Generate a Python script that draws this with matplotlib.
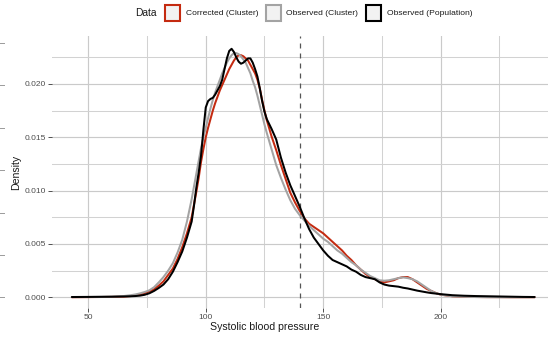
import matplotlib
matplotlib.use("Agg")
import matplotlib.pyplot as plt
from matplotlib.patches import Rectangle
from matplotlib.lines import Line2D

plt.rcParams['font.family'] = ['Liberation Sans', 'DejaVu Sans']

# Systolic blood pressure grid (mmHg)
sbp = [43, 50, 55, 60, 65, 68, 70, 72, 74, 76, 78, 80, 82, 84, 86, 88, 90, 92, 94,
       95, 96, 97, 98, 99, 100, 101, 102, 103, 104, 105, 106, 107, 108, 109, 110,
       111, 112, 113, 114, 115, 116, 117, 118, 119, 120, 121, 122, 123, 124, 125, 126,
       128, 130, 132, 134, 136, 138, 140, 142, 144, 146, 148, 150, 152, 154, 156, 158,
       160, 162, 164, 166, 168, 170, 172, 174, 176, 178, 180, 182, 184, 186, 188, 190,
       192, 194, 196, 198, 200,
       205, 210, 215, 220, 225, 230, 235, 240]

corrected_cluster = [
    0.00001, 0.00002, 0.00003, 0.00004, 0.00007, 0.00012, 0.00018, 0.00027, 0.0004, 0.00055,
    0.00075, 0.0011, 0.0015, 0.0021, 0.0027, 0.0036, 0.0047, 0.0060, 0.0075,
    0.0087, 0.0099, 0.0112, 0.0127, 0.0139, 0.0150, 0.0159, 0.0167, 0.0175, 0.0182, 0.0188,
    0.0194, 0.0199, 0.0204, 0.0209, 0.0214, 0.0218, 0.0222, 0.0225, 0.0227, 0.0227, 0.0226,
    0.0224, 0.0222, 0.0218, 0.0214, 0.0210, 0.0204, 0.0196, 0.0185, 0.0175, 0.0166,
    0.0151, 0.0138, 0.0124, 0.0111, 0.0098, 0.0089, 0.0081, 0.0074, 0.0069, 0.0066, 0.0063,
    0.0060, 0.0056, 0.0052, 0.0048, 0.0044, 0.0039, 0.0035, 0.0030, 0.0026, 0.0022, 0.0019,
    0.0017, 0.0015, 0.0014, 0.0015, 0.0016, 0.0018, 0.0019, 0.0019, 0.0017, 0.0014, 0.0011,
    0.0008, 0.0006, 0.0004, 0.00025,
    0.0001, 0.00005, 0.00003, 0.00002, 0.00002, 0.00001, 0.00001, 0.00001]

observed_cluster = [
    0.00002, 0.00003, 0.00004, 0.00006, 0.00012, 0.0002, 0.00027, 0.00037, 0.0005, 0.00066,
    0.00095, 0.0014, 0.0019, 0.0025, 0.0032, 0.0042, 0.0054, 0.0071, 0.0092,
    0.0104, 0.0116, 0.0128, 0.0140, 0.0150, 0.0159, 0.0168, 0.0177, 0.0185, 0.0192, 0.0198,
    0.0204, 0.0210, 0.0215, 0.0220, 0.0224, 0.0227, 0.0229, 0.0229, 0.0228, 0.0226, 0.0223,
    0.0220, 0.0215, 0.0210, 0.0203, 0.0197, 0.0189, 0.0180, 0.0171, 0.0162, 0.0154,
    0.0139, 0.0124, 0.0112, 0.0101, 0.0091, 0.0083, 0.0077, 0.0072, 0.0067, 0.0063, 0.0059,
    0.0055, 0.0052, 0.0048, 0.0044, 0.0041, 0.0037, 0.0033, 0.0030, 0.0026, 0.0023, 0.0020,
    0.0018, 0.0016, 0.00156, 0.0016, 0.0017, 0.0018, 0.00187, 0.0018, 0.0017, 0.0015, 0.0012,
    0.0009, 0.0006, 0.0004, 0.00025,
    0.0001, 0.00005, 0.00003, 0.00002, 0.00001, 0.00001, 0.00001, 0.00001]

observed_population = [
    0.00003, 0.00004, 0.00005, 0.00006, 0.00008, 0.0001, 0.00012, 0.00016, 0.00024, 0.00038,
    0.0006, 0.00088, 0.0012, 0.0017, 0.0024, 0.0033, 0.0043, 0.0056, 0.0071,
    0.0086, 0.0103, 0.0117, 0.0133, 0.0157, 0.0178, 0.0184, 0.0186, 0.0187, 0.0190, 0.0194,
    0.0198, 0.0204, 0.0214, 0.0224, 0.0231, 0.0233, 0.0230, 0.0225, 0.0221, 0.0219, 0.0220,
    0.0222, 0.0224, 0.0224, 0.0220, 0.0214, 0.0207, 0.0196, 0.0184, 0.0174, 0.0167,
    0.0158, 0.0148, 0.0131, 0.0117, 0.0105, 0.0095, 0.0085, 0.0074, 0.0064, 0.0056, 0.0050,
    0.0044, 0.0039, 0.0035, 0.0033, 0.0031, 0.0029, 0.0026, 0.0024, 0.0021, 0.0019, 0.0018,
    0.0017, 0.0014, 0.0012, 0.0011, 0.00105, 0.0010, 0.0009, 0.00083, 0.00073, 0.00063, 0.00055,
    0.00047, 0.0004, 0.00035, 0.0003,
    0.0002, 0.00015, 0.00012, 0.0001, 0.00008, 0.00006, 0.00004, 0.00003]

series_labels = ["Corrected (Cluster)", "Observed (Cluster)", "Observed (Population)"]
series_colors = ["#C42A10", "#A3A3A3", "#000000"]
threshold = 140

x_ticks = [50, 100, 150, 200]
y_ticks = [0.000, 0.005, 0.010, 0.015, 0.020]
y_tick_labels = ["0.000", "0.005", "0.010", "0.015", "0.020"]

W, H = 548, 342
fig = plt.figure(figsize=(W / 100, H / 100), dpi=100)
fig.patch.set_facecolor("white")


def fx(px):
    return px / W


def fy(py):
    return 1 - py / H


# panel: pixel box left 52, right 559 (runs past the right edge), top 36, bottom 308
ax = fig.add_axes([fx(52), fy(308), (559 - 52) / W, (308 - 36) / H])
ax.set_xlim(34.55, 250.38)
ax.set_ylim(-0.001, 0.0245)

for s in ax.spines.values():
    s.set_visible(False)

ax.set_xticks(x_ticks)
ax.set_xticks([75, 125, 175, 225], minor=True)
ax.set_yticks(y_ticks)
ax.set_yticklabels(y_tick_labels)
ax.set_yticks([0.0025, 0.0075, 0.0125, 0.0175, 0.0225], minor=True)
ax.grid(True, which="major", color="#CACACA", lw=0.85)
ax.grid(True, which="minor", color="#D2D2D2", lw=0.75)
ax.set_axisbelow(True)
ax.tick_params(which="major", length=2.6, width=0.6, color="#333333",
               labelsize=6, labelcolor="#4D4D4D", pad=1.8)
ax.tick_params(which="minor", length=0)

data = [corrected_cluster, observed_cluster, observed_population]
for vals, col, lab in zip(data, series_colors, series_labels):
    ax.plot(sbp, vals, color=col, lw=1.45, label=lab, solid_joinstyle="round",
            solid_capstyle="round")

ax.axvline(threshold, color="#555555", lw=0.9, ls=(0, (4, 4)), zorder=1.5)

fig.text(fx(264.5), fy(327.5), "Systolic blood pressure", ha="center", va="center",
         fontsize=7.6, color="#1A1A1A")
fig.text(fx(16), fy(172), "Density", ha="center", va="center", rotation=90,
         fontsize=7.6, color="#1A1A1A")

# legend across the top
fig.text(fx(135.5), fy(13.5), "Data", ha="left", va="center", fontsize=7.4, color="#1A1A1A")
key_left = [164.5, 265.5, 366]
label_left = [185.5, 286.5, 387]
for kl, ll, col, lab in zip(key_left, label_left, series_colors, series_labels):
    fig.add_artist(Rectangle((fx(kl), fy(20.5)), 15 / W, 16 / H, transform=fig.transFigure,
                             facecolor="#F2F2F2", edgecolor=col, lw=1.5))
    fig.text(fx(ll), fy(13.5), lab, ha="left", va="center", fontsize=6.1, color="#1A1A1A")

# tick marks of the neighbouring panel at the left edge
for py in [43, 85, 128, 170, 213, 255, 297]:
    fig.add_artist(Line2D([fx(0), fx(4)], [fy(py), fy(py)], transform=fig.transFigure,
                          color="#9A9A9A", lw=0.7))

fig.savefig("out.png", dpi=100, facecolor="white")
